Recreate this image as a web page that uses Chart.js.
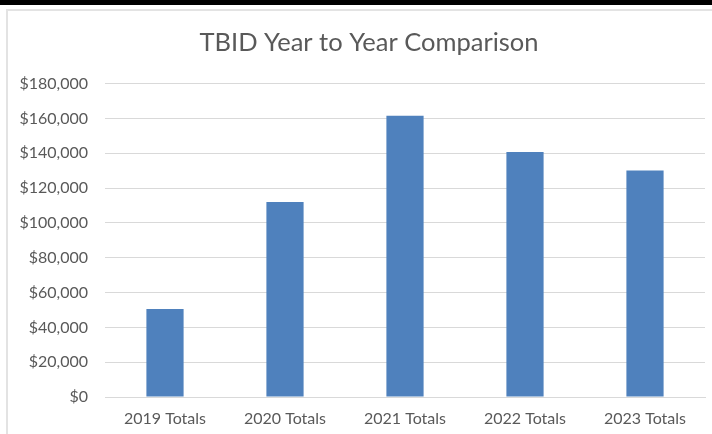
<!DOCTYPE html>
<html>
<head>
<meta charset="utf-8">
<script src="https://cdn.jsdelivr.net/npm/chart.js@4/dist/chart.umd.min.js"></script>
<style>
html,body{margin:0;padding:0;background:#fff;}
#wrap{position:relative;width:712px;height:434px;overflow:hidden;background:#fff;}
#topbar{position:absolute;left:0;top:0;width:712px;height:5px;background:#000;}
#frame{position:absolute;left:6px;top:9px;width:720px;height:440px;border-top:2px solid #e3e3e3;border-left:2px solid #e3e3e3;}
canvas{position:absolute;left:0;top:0;}
</style>
</head>
<body>
<div id="wrap">
<div id="topbar"></div>
<div id="frame"></div>
<canvas id="c" width="712" height="434"></canvas>
</div>
<script>
// chart data
const categories = ["2019 Totals","2020 Totals","2021 Totals","2022 Totals","2023 Totals"]
const totals = [50600, 112000, 161500, 140700, 130100]
const yMax = 180000
const yStep = 20000

// nudge the title a bit to the right, like the original
const titleShift = {
id:"titleShift",
afterLayout(chart){
const t = chart.titleBlock
if(t){ t.left += 7.5; t.right += 7.5 }
}
}

const ctx = document.getElementById("c").getContext("2d")

new Chart(ctx,{
type:"bar",
data:{
labels:categories,
datasets:[
{
label:"Totals",
data:totals,
backgroundColor:"#4f81bd",
borderWidth:0,
categoryPercentage:1,
barPercentage:0.31
}
]
},
plugins:[titleShift],
options:{
responsive:false,
animation:false,
layout:{padding:{left:18,right:7,top:12,bottom:6}},
plugins:{
legend:{display:false},
tooltip:{enabled:false},
title:{
display:true,
text:"TBID Year to Year Comparison",
color:"#595959",
font:{family:"Lato",size:25.5,weight:"normal",lineHeight:1.2},
padding:{top:15,bottom:26}
}
},
scales:{
x:{
afterFit:(axis)=>{axis.height=31},
grid:{display:false,drawTicks:false},
border:{display:true,color:"#d9d9d9"},
ticks:{color:"#595959",font:{family:"Lato",size:16},padding:12}
},
y:{
min:0,
max:yMax,
afterFit:(axis)=>{axis.width=87},
grid:{color:"#d9d9d9",drawTicks:false},
border:{display:false},
ticks:{
stepSize:yStep,
color:"#595959",
font:{family:"Lato",size:16},
padding:17,
callback:(v)=>"$"+v.toLocaleString("en-US")
}
}
}
}
})
</script>
</body>
</html>
